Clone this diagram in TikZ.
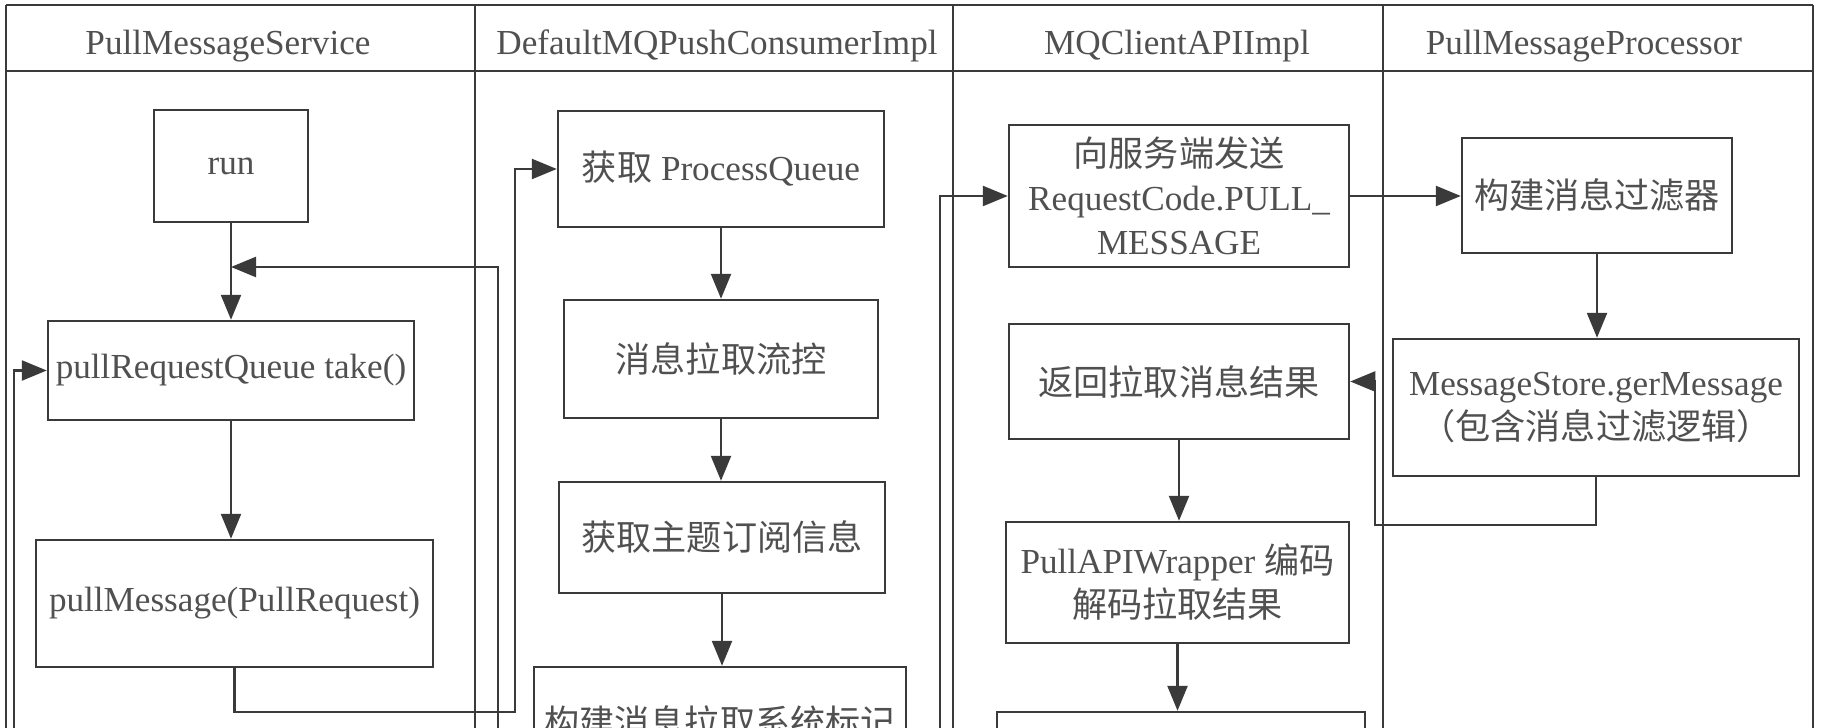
\documentclass[tikz,border=0pt]{standalone}
\usepackage{fontspec}
\setmainfont{Liberation Serif}
\newfontfamily\cjk{Noto Sans CJK SC}
\usetikzlibrary{arrows.meta}
\definecolor{edgegray}{HTML}{3A3A3A}
\definecolor{inkgray}{HTML}{505050}

\begin{document}
\begin{tikzpicture}
[x=0.1mm, y=-0.1mm, line width=0.7pt, edgegray,
 box/.style={draw=edgegray, rectangle, inner sep=0pt, align=center, text=inkgray,
   font=\fontsize{10}{12.5}\selectfont},
 lane/.style={text=inkgray, text height=7pt, text depth=2.2pt, font=\fontsize{10}{12}\selectfont},
 arr/.style={-{Triangle[length=2.5mm,width=2mm]}}]
\useasboundingbox (0,0) rectangle (1824,728);
\clip (0,0) rectangle (1824,728);

% swimlanes
\draw (6,5) -- (1813,5) (6,71) -- (1813,71);
\foreach \x in {6,475,953,1383,1813}
  \draw (\x,5) -- (\x,780);
\node[lane] (tsvc)  at (228,46)  {PullMessageService};
\node[lane] (tcons) at (717,46)  {DefaultMQPushConsumerImpl};
\node[lane] (tapi)  at (1177,46) {MQClientAPIImpl};
\node[lane] (tproc) at (1584,46) {PullMessageProcessor};

% PullMessageService
\node[box, minimum width=15.4mm, minimum height=11.2mm] (run) at (231,166) {run};
\node[box, minimum width=36.6mm, minimum height=9.9mm] (take) at (231,370.5) {pullRequestQueue take()};
\node[box, minimum width=39.7mm, minimum height=12.7mm] (pullmsg) at (234.5,603.5) {pullMessage(PullRequest)};

% DefaultMQPushConsumerImpl
\node[box, minimum width=32.6mm, minimum height=11.6mm] (getpq) at (721,169) {{\cjk 获取} ProcessQueue};
\node[box, minimum width=31.4mm, minimum height=11.8mm] (flow) at (721,359) {\cjk 消息拉取流控};
\node[box, minimum width=32.6mm, minimum height=11.1mm] (topic) at (722,537.5) {\cjk 获取主题订阅信息};
\node[box, minimum width=37.2mm, minimum height=11mm] (mark) at (720,722) {\cjk 构建消息拉取系统标记};

% MQClientAPIImpl
\node[box, minimum width=34mm, minimum height=14.2mm] (send) at (1179,196)
  {{\cjk 向服务端发送}\\RequestCode.PULL\_\\MESSAGE};
\node[box, minimum width=34mm, minimum height=11.5mm] (result) at (1179,381.5) {\cjk 返回拉取消息结果};
\node[box, minimum width=34.3mm, minimum height=12.1mm] (wrapper) at (1177.5,582.5)
  {PullAPIWrapper {\cjk 编码}\\{\cjk 解码拉取结果}};
\node[box, minimum width=36.8mm, minimum height=12mm] (apinext) at (1181,772) {};

% PullMessageProcessor
\node[box, minimum width=27mm, minimum height=11.5mm] (filter) at (1597,195.5) {\cjk 构建消息过滤器};
\node[box, minimum width=40.6mm, minimum height=13.7mm] (store) at (1596,407.5)
  {MessageStore.gerMessage\\{\cjk （包含消息过滤逻辑）}};

% bends and loose ends
\coordinate (join) at (231,267);
\coordinate (backA) at (14,780);
\coordinate (backB) at (498,780);
\coordinate (backC) at (940,780);
\coordinate (turnA) at (515,712);
\coordinate (turnB) at (1375,525);

\draw[arr] (run) -- (take);
\draw[arr] (take.south) -- (take.south |- pullmsg.north);
\draw[arr] (pullmsg.south) |- (turnA) |- (getpq.west);
\draw[arr] (backB) |- (join);
\draw[arr] (backA) |- (take.west);

\draw[arr] (getpq.south) -- (getpq.south |- flow.north);
\draw[arr] (flow.south) -- (flow.south |- topic.north);
\draw[arr] (topic.south) -- (topic.south |- mark.north);

\draw[arr] (backC) |- (send.west);
\draw[arr] (send.east) -- (send.east -| filter.west);
\draw[arr] (filter.south) -- (filter.south |- store.north);
\draw[arr] (store.south) |- (turnB) |- (result.east);
\draw[arr] (result.south) -- (result.south |- wrapper.north);
\draw[arr] (wrapper.south) -- (wrapper.south |- apinext.north);
\end{tikzpicture}
\end{document}
